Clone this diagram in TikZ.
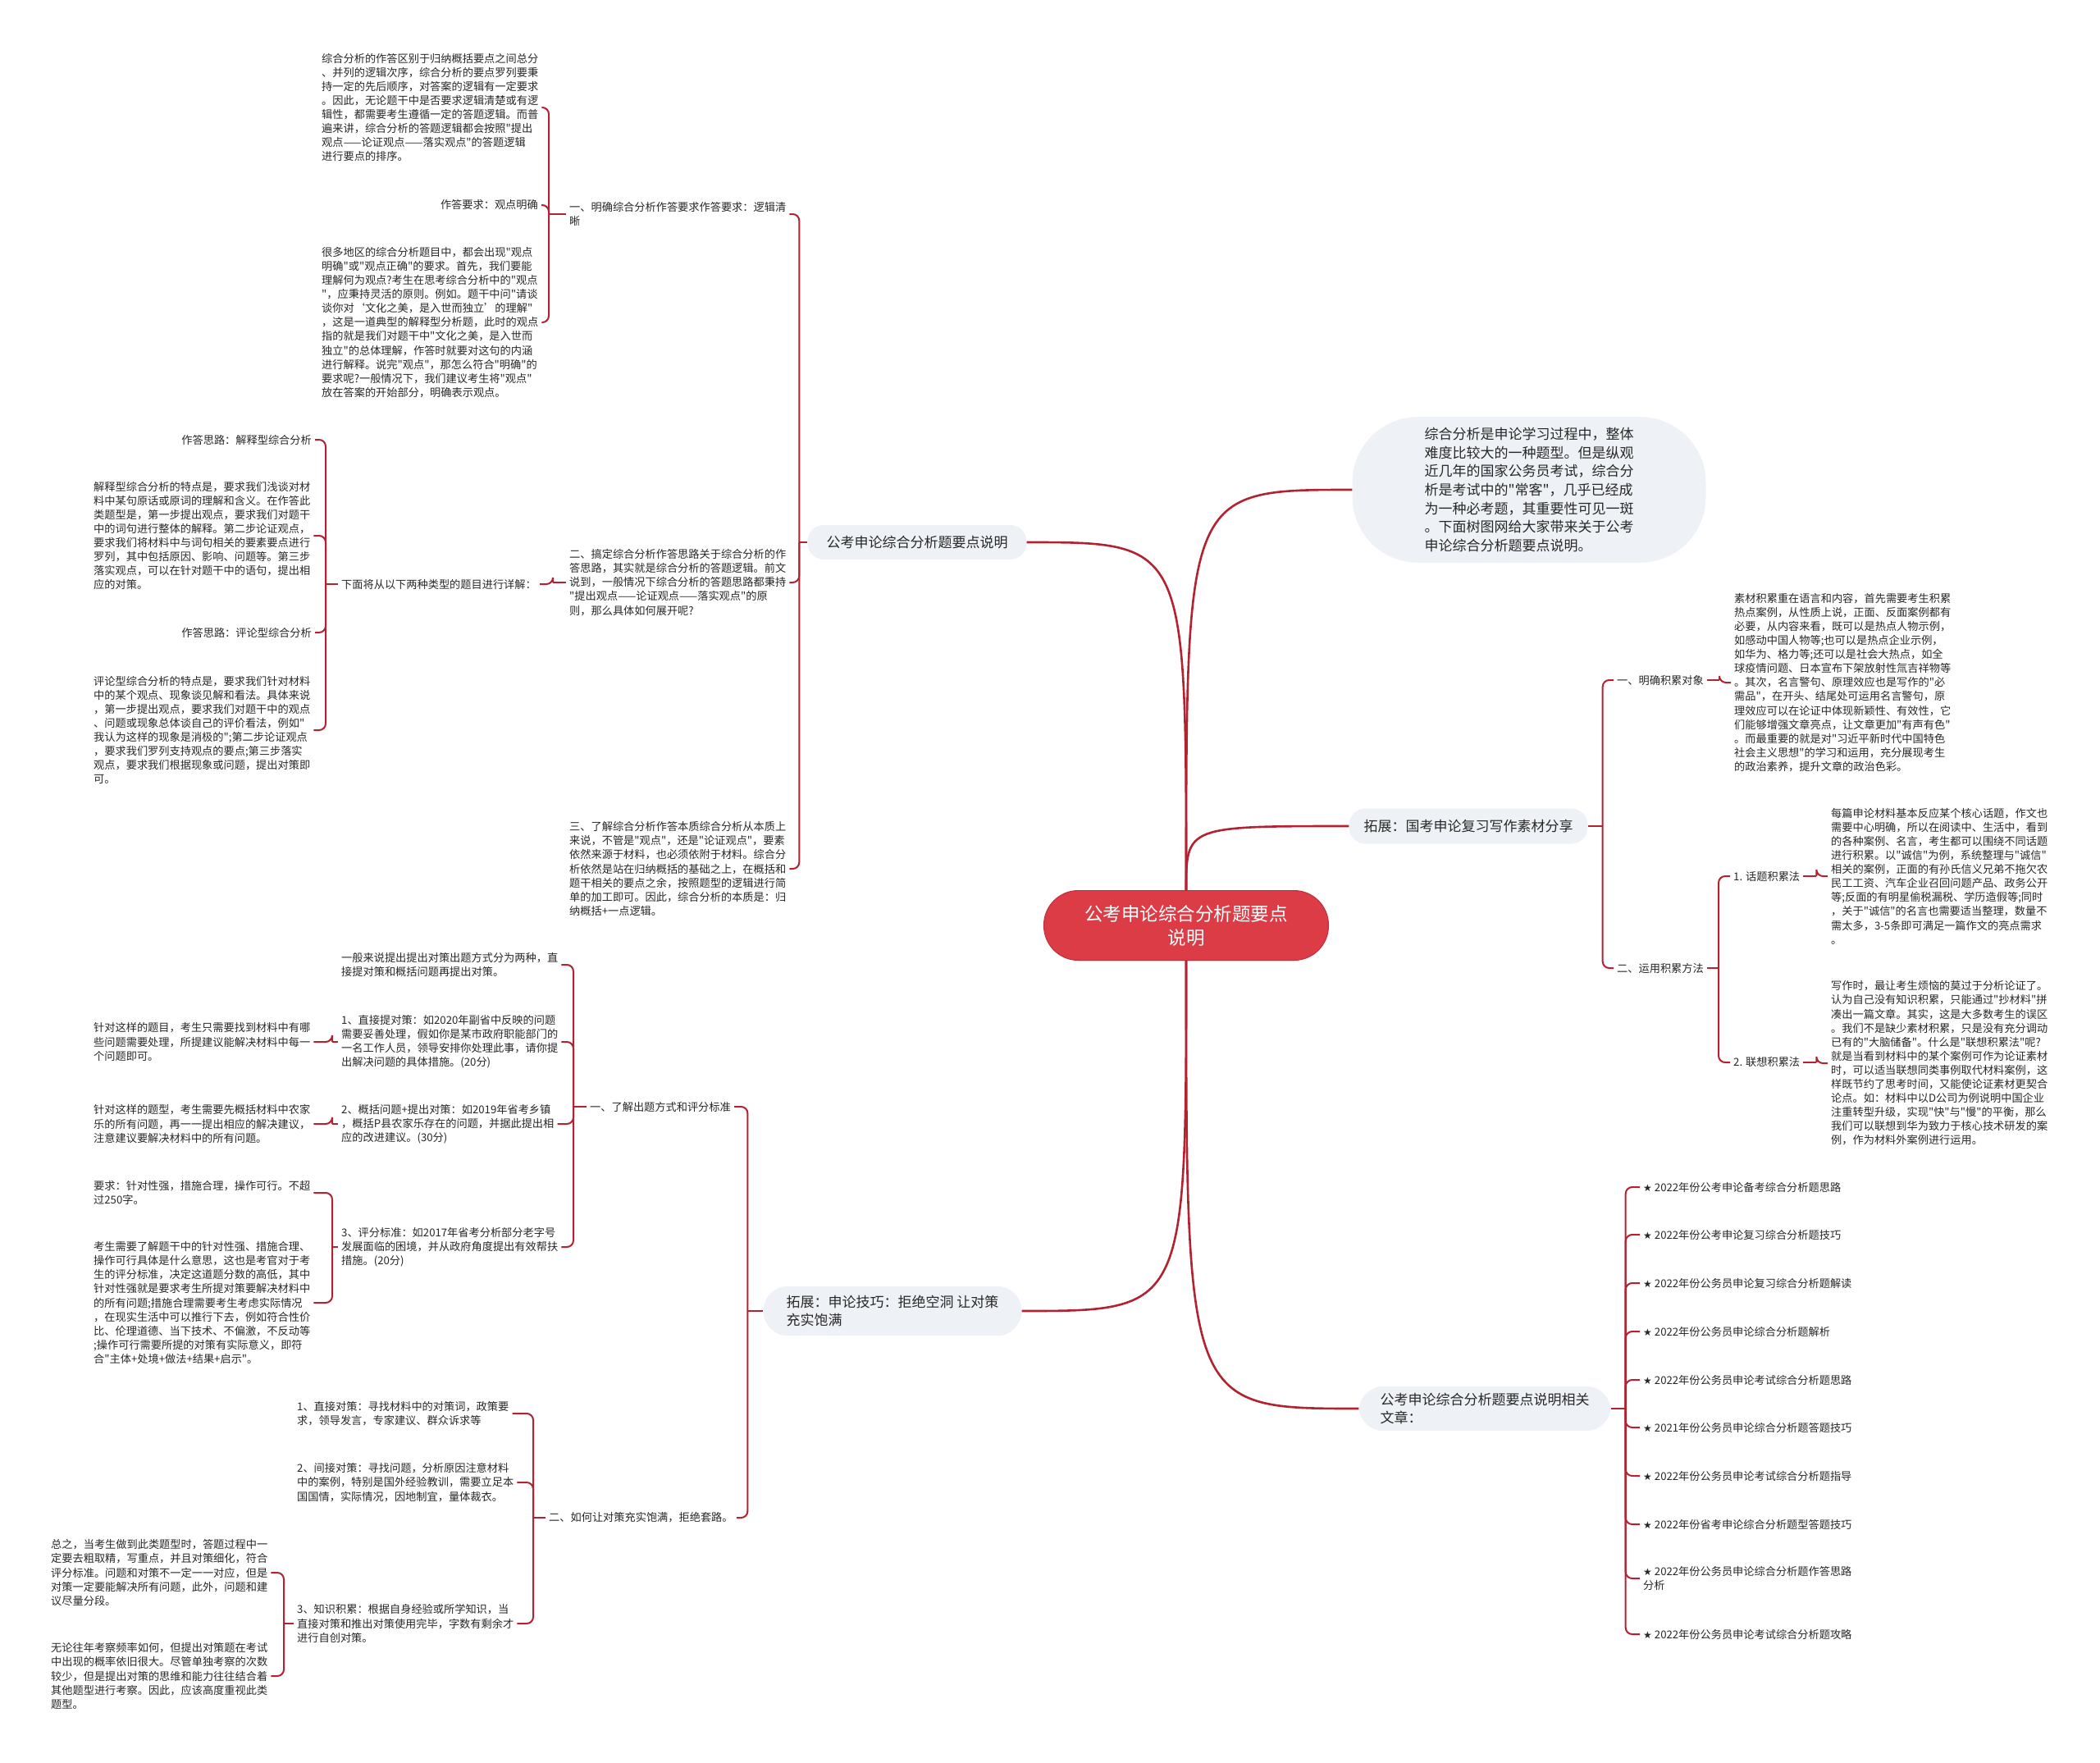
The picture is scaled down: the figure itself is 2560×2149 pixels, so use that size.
\documentclass[tikz,border=0pt]{standalone}
\usepackage{fontspec}
\setmainfont{Noto Sans CJK SC}[Ligatures=TeXOff]
\newfontfamily\symf{DejaVu Sans}
\definecolor{lc}{RGB}{178,34,48}
\definecolor{cred}{RGB}{220,60,70}
\definecolor{credb}{RGB}{196,44,56}
\definecolor{bubc}{RGB}{238,241,245}
\definecolor{tx}{RGB}{40,40,40}
\newcommand{\brL}[3]{\draw[conn] (#1.west) -- ++(-#2,0); \foreach \q in {#3}{\draw[conn] (#1.west) ++(-#2,0) |- (\q.east);}}
\newcommand{\brR}[3]{\draw[conn] (#1.east) -- ++(#2,0); \foreach \q in {#3}{\draw[conn] (#1.east) ++(#2,0) |- (\q.west);}}
\newcommand{\st}{{\symf\fontsize{12}{12}\selectfont ★}}
\begin{document}
\begin{tikzpicture}[x=1pt,y=-1pt,
  txt/.style={text=tx, font=\fontsize{13.2}{17.1}\selectfont, align=left, inner xsep=4pt, inner ysep=2pt},
  bub/.style={fill=bubc, text=tx, font=\fontsize{17}{22.6}\selectfont, align=left, rounded corners=20pt, inner xsep=20pt, inner ysep=9pt},
  conn/.style={draw=lc, line width=2pt, rounded corners=8pt},
  trunk/.style={draw=lc, line width=2.6pt}
]
\fill[white] (0,0) rectangle (2560,2149);
\useasboundingbox (0,0) rectangle (2560,2149);

% center
\node[fill=cred, draw=credb, line width=1pt, text=white, rounded corners=42pt, minimum width=347pt, minimum height=85pt, font=\fontsize{22.5}{29}\selectfont, align=center] (c) at (1446,1128) {公考申论综合分析题要点\\说明};

% main bubbles
\node[bub, minimum height=42pt, inner xsep=23pt] (b1) at (1118,661) {公考申论综合分析题要点说明};
\node[bub, rounded corners=30pt, inner xsep=28pt, inner ysep=11pt] (b2) at (1088,1598) {拓展：申论技巧：拒绝空洞 让对策\\充实饱满};
\node[bub, rounded corners=80pt, inner xsep=88pt, inner ysep=13pt] (intro) at (1864,597) {综合分析是申论学习过程中，整体\\难度比较大的一种题型。但是纵观\\近几年的国家公务员考试，综合分\\析是考试中的"常客"，几乎已经成\\为一种必考题，其重要性可见一斑\\。下面树图网给大家带来关于公考\\申论综合分析题要点说明。};
\node[bub, minimum height=43pt, inner xsep=18pt] (b3) at (1790,1007) {拓展：国考申论复习写作素材分享};
\node[bub, rounded corners=30pt, inner xsep=26pt, inner ysep=8pt] (b4) at (1810,1717) {公考申论综合分析题要点说明相关\\文章：};

% trunks
\draw[trunk] (c.north) .. controls (c.north |- b1.east) .. (b1.east);
\draw[trunk] (c.north) .. controls (c.north |- intro.west) .. (intro.west);
\draw[trunk] (c.north) .. controls (c.north |- b3.west) .. (b3.west);
\draw[trunk] (c.south) .. controls (c.south |- b2.east) .. (b2.east);
\draw[trunk] (c.south) .. controls (c.south |- b4.west) .. (b4.west);

% ---- left upper branch
\node[txt, anchor=west] (n1) at (690,261) {一、明确综合分析作答要求作答要求：逻辑清\\晰};
\node[txt, anchor=west] (p1) at (388,131) {综合分析的作答区别于归纳概括要点之间总分\\、并列的逻辑次序，综合分析的要点罗列要秉\\持一定的先后顺序，对答案的逻辑有一定要求\\。因此，无论题干中是否要求逻辑清楚或有逻\\辑性，都需要考生遵循一定的答题逻辑。而普\\遍来讲，综合分析的答题逻辑都会按照"提出\\观点——论证观点——落实观点"的答题逻辑\\进行要点的排序。};
\node[txt, anchor=east] (n1a) at (660,250) {作答要求：观点明确};
\node[txt, anchor=west] (p2) at (388,393) {很多地区的综合分析题目中，都会出现"观点\\明确"或"观点正确"的要求。首先，我们要能\\理解何为观点?考生在思考综合分析中的"观点\\"，应秉持灵活的原则。例如。题干中问"请谈\\谈你对‘文化之美，是入世而独立’的理解"\\，这是一道典型的解释型分析题，此时的观点\\指的就是我们对题干中"文化之美，是入世而\\独立"的总体理解，作答时就要对这句的内涵\\进行解释。说完"观点"，那怎么符合"明确"的\\要求呢?一般情况下，我们建议考生将"观点"\\放在答案的开始部分，明确表示观点。};
\node[txt, anchor=west] (n2) at (690,710) {二、搞定综合分析作答思路关于综合分析的作\\答思路，其实就是综合分析的答题逻辑。前文\\说到，一般情况下综合分析的答题思路都秉持\\"提出观点——论证观点——落实观点"的原\\则，那么具体如何展开呢?};
\node[txt, anchor=east] (n2a) at (658,712) {下面将从以下两种类型的题目进行详解：};
\node[txt, anchor=east] (t1) at (384,536) {作答思路：解释型综合分析};
\node[txt, anchor=west] (p3) at (110,653) {解释型综合分析的特点是，要求我们浅谈对材\\料中某句原话或原词的理解和含义。在作答此\\类题型是，第一步提出观点，要求我们对题干\\中的词句进行整体的解释。第二步论证观点，\\要求我们将材料中与词句相关的要素要点进行\\罗列，其中包括原因、影响、问题等。第三步\\落实观点，可以在针对题干中的语句，提出相\\应的对策。};
\node[txt, anchor=east] (t2) at (384,771) {作答思路：评论型综合分析};
\node[txt, anchor=west] (p4) at (110,890) {评论型综合分析的特点是，要求我们针对材料\\中的某个观点、现象谈见解和看法。具体来说\\，第一步提出观点，要求我们对题干中的观点\\、问题或现象总体谈自己的评价看法，例如"\\我认为这样的现象是消极的";第二步论证观点\\，要求我们罗列支持观点的要点;第三步落实\\观点，要求我们根据现象或问题，提出对策即\\可。};
\node[txt, anchor=west] (n3) at (690,1059) {三、了解综合分析作答本质综合分析从本质上\\来说，不管是"观点"，还是"论证观点"，要素\\依然来源于材料，也必须依附于材料。综合分\\析依然是站在归纳概括的基础之上，在概括和\\题干相关的要点之余，按照题型的逻辑进行简\\单的加工即可。因此，综合分析的本质是：归\\纳概括+一点逻辑。};

\brL{b1}{10}{n1,n2,n3}
\brL{n1}{21}{p1,n1a,p2}
\brL{n2}{16}{n2a}
\brL{n2a}{15}{t1,p3,t2,p4}

% ---- left lower branch
\node[txt, anchor=east] (n4) at (895,1349) {一、了解出题方式和评分标准};
\node[txt, anchor=west] (q1) at (412,1176) {一般来说提出提出对策出题方式分为两种，直\\接提对策和概括问题再提出对策。};
\node[txt, anchor=west] (q2) at (412,1270) {1、直接提对策：如2020年副省中反映的问题\\需要妥善处理，假如你是某市政府职能部门的\\一名工作人员，领导安排你处理此事，请你提\\出解决问题的具体措施。(20分)};
\node[txt, anchor=west] (r1) at (110,1270) {针对这样的题目，考生只需要找到材料中有哪\\些问题需要处理，所提建议能解决材料中每一\\个问题即可。};
\node[txt, anchor=west] (q3) at (412,1370) {2、概括问题+提出对策：如2019年省考乡镇\\，概括P县农家乐存在的问题，并据此提出相\\应的改进建议。(30分)};
\node[txt, anchor=west] (r2) at (110,1370) {针对这样的题型，考生需要先概括材料中农家\\乐的所有问题，再一一提出相应的解决建议，\\注意建议要解决材料中的所有问题。};
\node[txt, anchor=west] (q4) at (412,1520) {3、评分标准：如2017年省考分析部分老字号\\发展面临的困境，并从政府角度提出有效帮扶\\措施。(20分)};
\node[txt, anchor=west] (r3) at (110,1454) {要求：针对性强，措施合理，操作可行。不超\\过250字。};
\node[txt, anchor=west] (r4) at (110,1588) {考生需要了解题干中的针对性强、措施合理、\\操作可行具体是什么意思，这也是考官对于考\\生的评分标准，决定这道题分数的高低，其中\\针对性强就是要求考生所提对策要解决材料中\\的所有问题;措施合理需要考生考虑实际情况\\，在现实生活中可以推行下去，例如符合性价\\比、伦理道德、当下技术、不偏激，不反动等\\;操作可行需要所提的对策有实际意义，即符\\合"主体+处境+做法+结果+启示"。};
\node[txt, anchor=west] (n5) at (665,1850) {二、如何让对策充实饱满，拒绝套路。};
\node[txt, anchor=west] (s1) at (358,1723) {1、直接对策：寻找材料中的对策词，政策要\\求，领导发言，专家建议、群众诉求等};
\node[txt, anchor=west] (s2) at (358,1807) {2、间接对策：寻找问题，分析原因注意材料\\中的案例，特别是国外经验教训，需要立足本\\国国情，实际情况，因地制宜，量体裁衣。};
\node[txt, anchor=west] (s3) at (358,1979) {3、知识积累：根据自身经验或所学知识，当\\直接对策和推出对策使用完毕，字数有剩余才\\进行自创对策。};
\node[txt, anchor=west] (u1) at (58,1917) {总之，当考生做到此类题型时，答题过程中一\\定要去粗取精，写重点，并且对策细化，符合\\评分标准。问题和对策不一定一一对应，但是\\对策一定要能解决所有问题，此外，问题和建\\议尽量分段。};
\node[txt, anchor=west] (u2) at (58,2043) {无论往年考察频率如何，但提出对策题在考试\\中出现的概率依旧很大。尽管单独考察的次数\\较少，但是提出对策的思维和能力往往结合着\\其他题型进行考察。因此，应该高度重视此类\\题型。};

\brL{b2}{19}{n4,n5}
\brL{n4}{16}{q1,q2,q3,q4}
\brL{q2}{7}{r1}
\brL{q3}{7}{r2}
\brL{q4}{7}{r3,r4}
\brL{n5}{15}{s1,s2,s3}
\brL{s3}{12}{u1,u2}

% ---- right branch: material
\node[txt, anchor=west] (m1) at (1967,829) {一、明确积累对象};
\node[txt, anchor=west] (v1) at (2110,832) {素材积累重在语言和内容，首先需要考生积累\\热点案例，从性质上说，正面、反面案例都有\\必要，从内容来看，既可以是热点人物示例，\\如感动中国人物等;也可以是热点企业示例，\\如华为、格力等;还可以是社会大热点，如全\\球疫情问题、日本宣布下架放射性氚吉祥物等\\。其次，名言警句、原理效应也是写作的"必\\需品"，在开头、结尾处可运用名言警句，原\\理效应可以在论证中体现新颖性、有效性，它\\们能够增强文章亮点，让文章更加"有声有色"\\。而最重要的就是对"习近平新时代中国特色\\社会主义思想"的学习和运用，充分展现考生\\的政治素养，提升文章的政治色彩。};
\node[txt, anchor=west] (m2) at (1967,1180) {二、运用积累方法};
\node[txt, anchor=west] (k1) at (2109,1068) {1. 话题积累法};
\node[txt, anchor=west] (v2) at (2228,1068) {每篇申论材料基本反应某个核心话题，作文也\\需要中心明确，所以在阅读中、生活中，看到\\的各种案例、名言，考生都可以围绕不同话题\\进行积累。以"诚信"为例，系统整理与"诚信"\\相关的案例，正面的有孙氏信义兄弟不拖欠农\\民工工资、汽车企业召回问题产品、政务公开\\等;反面的有明星偷税漏税、学历造假等;同时\\，关于"诚信"的名言也需要适当整理，数量不\\需太多，3-5条即可满足一篇作文的亮点需求\\。};
\node[txt, anchor=west] (k2) at (2109,1295) {2. 联想积累法};
\node[txt, anchor=west] (v3) at (2228,1296) {写作时，最让考生烦恼的莫过于分析论证了。\\认为自己没有知识积累，只能通过"抄材料"拼\\凑出一篇文章。其实，这是大多数考生的误区\\。我们不是缺少素材积累，只是没有充分调动\\已有的"大脑储备"。什么是"联想积累法"呢?\\就是当看到材料中的某个案例可作为论证素材\\时，可以适当联想同类事例取代材料案例，这\\样既节约了思考时间，又能使论证素材更契合\\论点。如：材料中以D公司为例说明中国企业\\注重转型升级，实现"快"与"慢"的平衡，那么\\我们可以联想到华为致力于核心技术研发的案\\例，作为材料外案例进行运用。};

\brR{b3}{18}{m1,m2}
\brR{m1}{15}{v1}
\brR{m2}{14}{k1,k2}
\brR{k1}{16}{v2}
\brR{k2}{16}{v3}

% ---- right branch: related articles
\node[txt, anchor=west] (w1) at (1999,1447) {\st\ 2022年份公考申论备考综合分析题思路};
\node[txt, anchor=west] (w2) at (1999,1505) {\st\ 2022年份公考申论复习综合分析题技巧};
\node[txt, anchor=west] (w3) at (1999,1564) {\st\ 2022年份公务员申论复习综合分析题解读};
\node[txt, anchor=west] (w4) at (1999,1623) {\st\ 2022年份公务员申论综合分析题解析};
\node[txt, anchor=west] (w5) at (1999,1682) {\st\ 2022年份公务员申论考试综合分析题思路};
\node[txt, anchor=west] (w6) at (1999,1740) {\st\ 2021年份公务员申论综合分析题答题技巧};
\node[txt, anchor=west] (w7) at (1999,1799) {\st\ 2022年份公务员申论考试综合分析题指导};
\node[txt, anchor=west] (w8) at (1999,1858) {\st\ 2022年份省考申论综合分析题型答题技巧};
\node[txt, anchor=west] (w9) at (1999,1924) {\st\ 2022年份公务员申论综合分析题作答思路\\分析};
\node[txt, anchor=west] (w10) at (1999,1992) {\st\ 2022年份公务员申论考试综合分析题攻略};

\brR{b4}{18}{w1,w2,w3,w4,w5,w6,w7,w8,w9,w10}
\end{tikzpicture}
\end{document}
